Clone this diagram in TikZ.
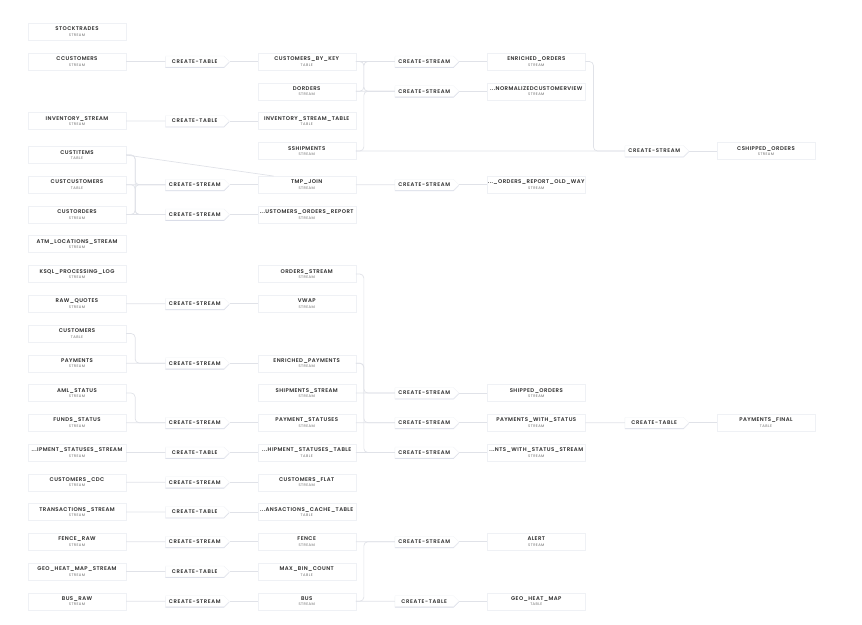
\documentclass[tikz,border=0pt]{standalone}
\usepackage{fontspec}
\setmainfont{Poppins}[BoldFont={Poppins SemiBold}]
\usetikzlibrary{shapes.symbols,shadows}

\definecolor{linkgrey}{HTML}{E0E2E8}
\definecolor{namegrey}{HTML}{2E2E2E}
\definecolor{kindgrey}{HTML}{6E6E6E}
\definecolor{shadegrey}{HTML}{D8DBE7}
\definecolor{rimgrey}{HTML}{EFF1F5}

\newcommand{\obj}[2]{{\bfseries\addfontfeature{LetterSpace=8}#1}\\{\color{kindgrey}\fontsize{3.7}{5}\selectfont\addfontfeature{LetterSpace=12}#2}}

\tikzset{
  objbox/.style={rectangle, fill=white, draw=rimgrey, line width=0.3pt,
    minimum width=98pt, minimum height=17pt, inner sep=0pt, align=center,
    text=namegrey, font=\fontsize{5.4}{5.4}\selectfont,
    drop shadow={shadow xshift=0pt, shadow yshift=-0.9pt, fill=shadegrey, opacity=1}},
  opbox/.style={signal, signal to=east, signal pointer angle=90, fill=white,
    draw=rimgrey, line width=0.3pt, minimum width=64pt, minimum height=11pt,
    inner xsep=2pt, inner ysep=0pt, text=namegrey,
    font=\fontsize{5.3}{6}\selectfont\bfseries\addfontfeature{LetterSpace=12},
    drop shadow={shadow xshift=0pt, shadow yshift=-0.9pt, fill=shadegrey, opacity=1}},
  link/.style={draw=linkgrey, line width=0.7pt, rounded corners=4pt}
}

\begin{document}
\begin{tikzpicture}[x=1pt,y=-1pt]
\useasboundingbox (0,0) rectangle (862,624);

% sources
\node[objbox] (stocktrades) at (77,31.7) {\obj{STOCKTRADES}{STREAM}};
\node[objbox] (ccustomers) at (77,61.5) {\obj{CCUSTOMERS}{STREAM}};
\node[objbox] (inventorystream) at (77,121) {\obj{INVENTORY\_STREAM}{STREAM}};
\node[objbox] (custitems) at (77,155) {\obj{CUSTITEMS}{TABLE}};
\node[objbox] (custcustomers) at (77,184.7) {\obj{CUSTCUSTOMERS}{TABLE}};
\node[objbox] (custorders) at (77,214.4) {\obj{CUSTORDERS}{STREAM}};
\node[objbox] (atmlocations) at (77,244) {\obj{ATM\_LOCATIONS\_STREAM}{STREAM}};
\node[objbox] (ksqllog) at (77,274) {\obj{KSQL\_PROCESSING\_LOG}{STREAM}};
\node[objbox] (rawquotes) at (77,303.7) {\obj{RAW\_QUOTES}{STREAM}};
\node[objbox] (customers) at (77,333.5) {\obj{CUSTOMERS}{TABLE}};
\node[objbox] (payments) at (77,363.2) {\obj{PAYMENTS}{STREAM}};
\node[objbox] (amlstatus) at (77,393) {\obj{AML\_STATUS}{STREAM}};
\node[objbox] (fundsstatus) at (77,422.7) {\obj{FUNDS\_STATUS}{STREAM}};
\node[objbox] (shipstatusstream) at (77,452.5) {\obj{...IPMENT\_STATUSES\_STREAM}{STREAM}};
\node[objbox] (customerscdc) at (77,482.2) {\obj{CUSTOMERS\_CDC}{STREAM}};
\node[objbox] (transactions) at (77,512) {\obj{TRANSACTIONS\_STREAM}{STREAM}};
\node[objbox] (fenceraw) at (77,541.7) {\obj{FENCE\_RAW}{STREAM}};
\node[objbox] (geostream) at (77,571.5) {\obj{GEO\_HEAT\_MAP\_STREAM}{STREAM}};
\node[objbox] (busraw) at (77,601.2) {\obj{BUS\_RAW}{STREAM}};

% first queries
\node[opbox] (mkcustbykey) at (194.7,61.5) {CREATE-TABLE};
\node[opbox] (mkinvtable) at (194.7,121) {CREATE-TABLE};
\node[opbox] (mktmpjoin) at (194.7,184.7) {CREATE-STREAM};
\node[opbox] (mkordersreport) at (194.7,214.4) {CREATE-STREAM};
\node[opbox] (mkvwap) at (194.7,303.7) {CREATE-STREAM};
\node[opbox] (mkenrichedpay) at (194.7,363.2) {CREATE-STREAM};
\node[opbox] (mkpaystatuses) at (194.7,422.7) {CREATE-STREAM};
\node[opbox] (mkshipstatustable) at (194.7,452.5) {CREATE-TABLE};
\node[opbox] (mkcustflat) at (194.7,482.2) {CREATE-STREAM};
\node[opbox] (mktranscache) at (194.7,512) {CREATE-TABLE};
\node[opbox] (mkfence) at (194.7,541.7) {CREATE-STREAM};
\node[opbox] (mkmaxbin) at (194.7,571.5) {CREATE-TABLE};
\node[opbox] (mkbus) at (194.7,601.2) {CREATE-STREAM};

% derived
\node[objbox] (customersbykey) at (306.7,61.5) {\obj{CUSTOMERS\_BY\_KEY}{TABLE}};
\node[objbox] (dorders) at (306.7,91.2) {\obj{DORDERS}{STREAM}};
\node[objbox] (inventorytable) at (306.7,121) {\obj{INVENTORY\_STREAM\_TABLE}{TABLE}};
\node[objbox] (sshipments) at (306.7,151) {\obj{SSHIPMENTS}{STREAM}};
\node[objbox] (tmpjoin) at (306.7,184.7) {\obj{TMP\_JOIN}{STREAM}};
\node[objbox] (ordersreport) at (306.7,214.4) {\obj{...USTOMERS\_ORDERS\_REPORT}{STREAM}};
\node[objbox] (ordersstream) at (306.7,274) {\obj{ORDERS\_STREAM}{STREAM}};
\node[objbox] (vwap) at (306.7,303.7) {\obj{VWAP}{STREAM}};
\node[objbox] (enrichedpayments) at (306.7,363.2) {\obj{ENRICHED\_PAYMENTS}{STREAM}};
\node[objbox] (shipmentsstream) at (306.7,393) {\obj{SHIPMENTS\_STREAM}{STREAM}};
\node[objbox] (paymentstatuses) at (306.7,422.7) {\obj{PAYMENT\_STATUSES}{STREAM}};
\node[objbox] (shipstatustable) at (306.7,452.5) {\obj{...HIPMENT\_STATUSES\_TABLE}{TABLE}};
\node[objbox] (customersflat) at (306.7,482.2) {\obj{CUSTOMERS\_FLAT}{STREAM}};
\node[objbox] (transcache) at (306.7,512) {\obj{...ANSACTIONS\_CACHE\_TABLE}{TABLE}};
\node[objbox] (fence) at (306.7,541.7) {\obj{FENCE}{STREAM}};
\node[objbox] (maxbincount) at (306.7,571.5) {\obj{MAX\_BIN\_COUNT}{TABLE}};
\node[objbox] (bus) at (306.7,601.2) {\obj{BUS}{STREAM}};

% second queries
\node[opbox] (mkenrichedorders) at (424.2,61.5) {CREATE-STREAM};
\node[opbox] (mknormalized) at (424.2,91.2) {CREATE-STREAM};
\node[opbox] (mkoldway) at (424.2,184.7) {CREATE-STREAM};
\node[opbox] (mkshippedorders) at (424.2,393) {CREATE-STREAM};
\node[opbox] (mkpaywithstatus) at (424.2,422.7) {CREATE-STREAM};
\node[opbox] (mkwithstatusstream) at (424.2,452.5) {CREATE-STREAM};
\node[opbox] (mkalert) at (424.2,541.7) {CREATE-STREAM};
\node[opbox] (mkgeoheat) at (424.2,601.2) {CREATE-TABLE};

\node[objbox] (enrichedorders) at (536.3,61.5) {\obj{ENRICHED\_ORDERS}{STREAM}};
\node[objbox] (normalized) at (536.3,91.2) {\obj{...NORMALIZEDCUSTOMERVIEW}{STREAM}};
\node[objbox] (reportoldway) at (536.3,184.7) {\obj{...\_ORDERS\_REPORT\_OLD\_WAY}{STREAM}};
\node[objbox] (shippedorders) at (536.3,393) {\obj{SHIPPED\_ORDERS}{STREAM}};
\node[objbox] (paymentswithstatus) at (536.3,422.7) {\obj{PAYMENTS\_WITH\_STATUS}{STREAM}};
\node[objbox] (withstatusstream) at (536.3,452.5) {\obj{...NTS\_WITH\_STATUS\_STREAM}{STREAM}};
\node[objbox] (alert) at (536.3,541.7) {\obj{ALERT}{STREAM}};
\node[objbox] (geoheatmap) at (536.3,601.2) {\obj{GEO\_HEAT\_MAP}{TABLE}};

% last queries
\node[opbox] (mkcshipped) at (654.2,151) {CREATE-STREAM};
\node[opbox] (mkpayfinal) at (654.2,422.7) {CREATE-TABLE};
\node[objbox] (cshippedorders) at (766,151) {\obj{CSHIPPED\_ORDERS}{STREAM}};
\node[objbox] (paymentsfinal) at (766,422.7) {\obj{PAYMENTS\_FINAL}{TABLE}};

% links into the first queries
\draw[link] (ccustomers) -- (mkcustbykey);
\draw[link] (inventorystream) -- (mkinvtable);
\draw[link] (custitems.east) -- ++(9,0) |- (mktmpjoin.west);
\draw[link] (custitems.east) -- ++(9,0) |- (mkordersreport.west);
\draw[link] (custcustomers) -- (mktmpjoin);
\draw[link] (custcustomers.east) -- ++(9,0) |- (mkordersreport.west);
\draw[link] (custorders.east) -- ++(9,0) |- (mktmpjoin.west);
\draw[link] (custorders) -- (mkordersreport);
\draw[link] (custitems.east) -- ([xshift=16pt]tmpjoin.north west);
\draw[link] (rawquotes) -- (mkvwap);
\draw[link] (customers.east) -- ++(9,0) |- (mkenrichedpay.west);
\draw[link] (payments) -- (mkenrichedpay);
\draw[link] (amlstatus.east) -- ++(9,0) |- (mkpaystatuses.west);
\draw[link] (fundsstatus) -- (mkpaystatuses);
\draw[link] (shipstatusstream) -- (mkshipstatustable);
\draw[link] (customerscdc) -- (mkcustflat);
\draw[link] (transactions) -- (mktranscache);
\draw[link] (fenceraw) -- (mkfence);
\draw[link] (geostream) -- (mkmaxbin);
\draw[link] (busraw) -- (mkbus);

\draw[link] (mkcustbykey.east) -- (customersbykey.west);
\draw[link] (mkinvtable.east) -- (inventorytable.west);
\draw[link] (mktmpjoin.east) -- (tmpjoin.west);
\draw[link] (mkordersreport.east) -- (ordersreport.west);
\draw[link] (mkvwap.east) -- (vwap.west);
\draw[link] (mkenrichedpay.east) -- (enrichedpayments.west);
\draw[link] (mkpaystatuses.east) -- (paymentstatuses.west);
\draw[link] (mkshipstatustable.east) -- (shipstatustable.west);
\draw[link] (mkcustflat.east) -- (customersflat.west);
\draw[link] (mktranscache.east) -- (transcache.west);
\draw[link] (mkfence.east) -- (fence.west);
\draw[link] (mkmaxbin.east) -- (maxbincount.west);
\draw[link] (mkbus.east) -- (bus.west);

% links into the second queries
\draw[link] (customersbykey) -- (mkenrichedorders);
\draw[link] (dorders.east) -- ++(8,0) |- (mkenrichedorders.west);
\draw[link] (customersbykey.east) -- ++(8,0) |- (mknormalized.west);
\draw[link] (dorders) -- (mknormalized);
\draw[link] (sshipments.east) -- ++(8,0) |- (mknormalized.west);
\draw[link] (sshipments) -- (mkcshipped);
\draw[link] (tmpjoin) -- (mkoldway);
\draw[link] (ordersstream.east) -- ++(8,0) |- (mkshippedorders.west);
\draw[link] (shipmentsstream) -- (mkshippedorders);
\draw[link] (enrichedpayments.east) -- ++(8,0) |- (mkpaywithstatus.west);
\draw[link] (paymentstatuses) -- (mkpaywithstatus);
\draw[link] (enrichedpayments.east) -- ++(8,0) |- (mkwithstatusstream.west);
\draw[link] (shipstatustable) -- (mkwithstatusstream);
\draw[link] (fence) -- (mkalert);
\draw[link] (bus.east) -- ++(8,0) |- (mkalert.west);
\draw[link] (bus) -- (mkgeoheat);

\draw[link] (mkenrichedorders.east) -- (enrichedorders.west);
\draw[link] (mknormalized.east) -- (normalized.west);
\draw[link] (mkoldway.east) -- (reportoldway.west);
\draw[link] (mkshippedorders.east) -- (shippedorders.west);
\draw[link] (mkpaywithstatus.east) -- (paymentswithstatus.west);
\draw[link] (mkwithstatusstream.east) -- (withstatusstream.west);
\draw[link] (mkalert.east) -- (alert.west);
\draw[link] (mkgeoheat.east) -- (geoheatmap.west);

% links into the last queries
\draw[link] (enrichedorders.east) -- ++(8,0) |- (mkcshipped.west);
\draw[link] (paymentswithstatus) -- (mkpayfinal);
\draw[link] (mkcshipped.east) -- (cshippedorders.west);
\draw[link] (mkpayfinal.east) -- (paymentsfinal.west);
\end{tikzpicture}
\end{document}
